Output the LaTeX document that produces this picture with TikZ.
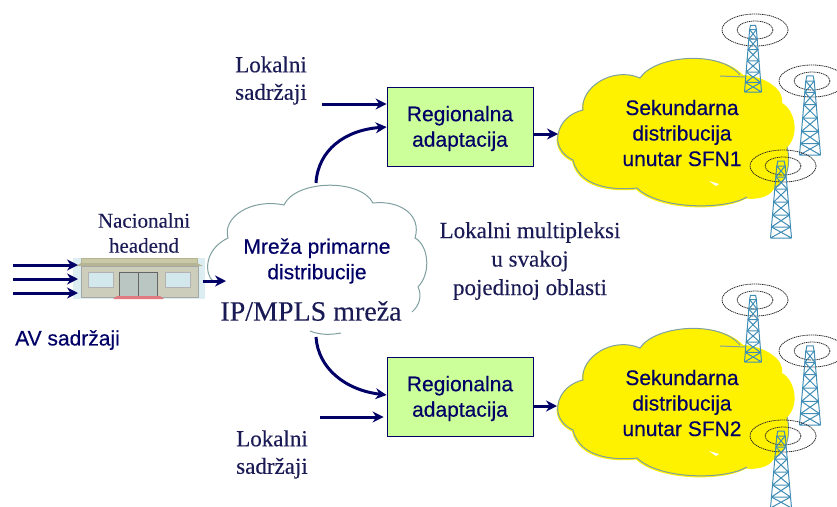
\documentclass[tikz,border=0pt]{standalone}
\usepackage{fontspec}
\setmainfont{Liberation Serif}
\setsansfont{Liberation Sans}
\newfontfamily\heavysans[FakeBold=0.35]{Liberation Sans}
\newfontfamily\heavyserif[FakeBold=0.15]{Liberation Serif}
\usetikzlibrary{arrows.meta}
\definecolor{navy}{HTML}{000066}
\definecolor{inktext}{HTML}{1A1A55}
\definecolor{cloudline}{HTML}{7F9FA0}
\definecolor{towerblue}{HTML}{3F8DB5}
\definecolor{boxgreen}{HTML}{CCFF99}
\tikzset{
  flow/.style={draw=navy,line width=3pt,-{Stealth[length=11pt,width=11pt]}},
  regbox/.style={draw=navy,line width=0.8pt,fill=boxgreen,minimum width=146pt,minimum height=79pt,inner sep=0pt},
  sanslabel/.style={font=\heavysans\fontsize{21}{25.5}\selectfont,text=navy,align=center,inner sep=0pt},
  seriflabel/.style={font=\heavyserif\fontsize{23}{27.5}\selectfont,text=inktext,align=center,inner sep=0pt},
  cloudedge/.style={draw=cloudline,line width=1pt},
  ringline/.style={draw=black!85,dash pattern=on 1.2pt off 0.7pt,line width=0.8pt},
  latt/.style={draw=towerblue,line width=1pt}
}
\newcommand{\mytower}[4]{% cx, top, height, width
  \draw[ringline] (#1+2,#2+3) ellipse [x radius=33,y radius=16];
  \draw[ringline] (#1+2,#2+3) ellipse [x radius=18,y radius=9];
  \begin{scope}[shift={(#1,#2)},xscale=#4/20,yscale=#3/75]
    \draw[latt] (-3,-2) -- (3,-2) -- (4,3) -- (-4,3) -- cycle;
    \draw[latt] (-4,3) -- (-10,75) (4,3) -- (10,75);
    \foreach \ya/\yb in {3/14,14/26,26/39,39/52,52/64,64/75}{
      \pgfmathsetmacro{\wa}{4+6*(\ya-3)/72}
      \pgfmathsetmacro{\wb}{4+6*(\yb-3)/72}
      \draw[latt] (-\wa,\ya) -- (\wb,\yb) (\wa,\ya) -- (-\wb,\yb) (-\wb,\yb) -- (\wb,\yb);
    }
  \end{scope}
}
\newcommand{\yellowcloud}[1]{%
  \begin{scope}[yshift=-#1pt]
    \fill[yellow,shift={(-1,1.5)}]
      (558,135) .. controls (560,122) and (570,113) .. (583,110)
      .. controls (580,88) and (612,66) .. (640,78)
      .. controls (655,55) and (720,50) .. (743,75)
      .. controls (765,76) and (785,90) .. (782,103)
      .. controls (795,110) and (800,135) .. (787,147)
      .. controls (792,165) and (785,185) .. (775,187)
      .. controls (770,197) and (755,198) .. (747,197)
      .. controls (725,210) and (660,210) .. (637,188)
      .. controls (620,190) and (580,190) .. (573,160)
      .. controls (562,155) and (556,145) .. (558,135) -- cycle;
    \fill[yellow]
      (558,135) .. controls (560,122) and (570,113) .. (583,110)
      .. controls (580,88) and (612,66) .. (640,78)
      .. controls (655,55) and (720,50) .. (743,75)
      .. controls (765,76) and (785,90) .. (782,103)
      .. controls (795,110) and (800,135) .. (787,147)
      .. controls (792,165) and (785,185) .. (775,187)
      .. controls (770,197) and (755,198) .. (747,197)
      .. controls (725,210) and (660,210) .. (637,188)
      .. controls (620,190) and (580,190) .. (573,160)
      .. controls (562,155) and (556,145) .. (558,135) -- cycle;
    \draw[cloudedge]
      (787,147) .. controls (792,165) and (785,185) .. (775,187)
      (747,197) .. controls (725,210) and (660,210) .. (637,188)
      .. controls (620,190) and (580,190) .. (573,160)
      .. controls (562,155) and (556,145) .. (558,135)
      .. controls (560,122) and (570,113) .. (583,110)
      .. controls (580,88) and (612,66) .. (640,78)
      .. controls (655,55) and (720,50) .. (740,75);
    \draw[cloudedge] (720,76) -- (745,77);
    \fill[white] (709,181) -- (719,184) -- (716,186) -- cycle;
  \end{scope}
}
\begin{document}
\begin{tikzpicture}[x=1pt,y=-1pt]
\useasboundingbox (0,0) rectangle (837,506);
\clip (0,0) rectangle (837,506);

% clouds (filled first)
\yellowcloud{0}
\yellowcloud{270}
\draw[cloudedge]
  (213,281) .. controls (205,275) and (203,250) .. (228,238)
  .. controls (222,218) and (250,198) .. (284,205)
  .. controls (295,180) and (360,178) .. (373,203)
  .. controls (400,200) and (422,215) .. (415,238)
  .. controls (428,245) and (432,272) .. (418,287)
  .. controls (422,295) and (420,305) .. (412,312);
\draw[cloudedge] (310,331) .. controls (320,335) and (330,335) .. (341,333);

% building
\definecolor{bldbg}{HTML}{DCEEF2}
\definecolor{bldroof}{HTML}{C9C9A6}
\definecolor{bldeave}{HTML}{B5B596}
\definecolor{bldwall}{HTML}{CDCDBB}
\definecolor{bldwin}{HTML}{D2E8EC}
\definecolor{blddoor}{HTML}{B9C6C2}
\definecolor{bldmat}{HTML}{E07A80}
\fill[bldbg] (73,258) rectangle (205,299);
\fill[bldroof,draw=bldeave] (81,258) rectangle (197,263);
\fill[bldeave] (81,263) -- (197,263) -- (203,266) -- (76,266) -- cycle;
\fill[bldwall,draw=black!35] (81,266) rectangle (198,297);
\fill[bldwin,draw=black!30,line width=1pt] (88,272) rectangle (113,287);
\fill[bldwin,draw=black!30,line width=1pt] (165,272) rectangle (190,287);
\fill[blddoor,draw=black!60,line width=0.8pt] (119,272) rectangle (157,296);
\draw[black!60,line width=0.8pt] (138,272) -- (138,296);
\fill[bldmat] (117,296) -- (160,296) -- (164,299) -- (113,299) -- cycle;

% towers
\mytower{753}{27}{65}{17}
\mytower{810}{78}{77}{21}
\mytower{781}{163}{75}{21}
\mytower{753}{297}{65}{17}
\mytower{810}{348}{77}{21}
\mytower{781}{433}{75}{21}

% boxes
\node[regbox] (box1) at (460,126.5) {};
\node[regbox] (box2) at (460,396.5) {};
\node[sanslabel] (boxtext1) at (460,128.5) {Regionalna\\adaptacija};
\node[sanslabel] (boxtext2) at (460,398.5) {Regionalna\\adaptacija};

% labels
\node[seriflabel] (lok1) at (271,80.5) {Lokalni\\sadržaji};
\node[seriflabel] (lok2) at (272,454.5) {Lokalni\\sadržaji};
\node[seriflabel,font=\heavyserif\fontsize{21}{25}\selectfont] (nac) at (144,233) {Nacionalni\\headend};
\node[sanslabel,anchor=west] (av) at (15,340) {AV sadržaji};
\node[sanslabel] (mreza) at (317,261) {Mreža primarne\\distribucije};
\node[font=\heavyserif\fontsize{28}{30}\selectfont,text=inktext,inner sep=0pt] (ip) at (311,311) {IP/MPLS mreža};
\node[seriflabel,font=\heavyserif\fontsize{23}{28.5}\selectfont] (lm) at (530,261) {Lokalni multipleksi\\u svakoj\\pojedinoj oblasti};
\node[sanslabel] (sek1) at (682,133) {Sekundarna\\distribucija\\unutar SFN1};
\node[sanslabel] (sek2) at (682,403) {Sekundarna\\distribucija\\unutar SFN2};

% connector ends
\coordinate (in1) at (13,265);
\coordinate (in2) at (13,279);
\coordinate (in3) at (13,293);
\coordinate (bin1) at (78,265);
\coordinate (bin2) at (78,279);
\coordinate (bin3) at (78,293);
\coordinate (bout) at (203,281);
\coordinate (cin) at (226,281);
\coordinate (ctop) at (316,183);
\coordinate (cbot) at (316,337);
\coordinate (lf1) at (322,104);
\coordinate (lf2) at (320,417);
\coordinate (s1in) at (558,134);
\coordinate (s2in) at (557,406);

% connectors
\draw[flow] (in1) -- (bin1);
\draw[flow] (in2) -- (bin2);
\draw[flow] (in3) -- (bin3);
\draw[flow] (bout) -- (cin);
\draw[flow] (lf1) -- (box1.west |- lf1);
\draw[flow] (lf2) -- ([xshift=-3pt]box2.west |- lf2);
\draw[flow] (ctop) .. controls (318,150) and (345,130) .. (box1.west |- 0,127);
\draw[flow] (cbot) .. controls (318,368) and (345,390) .. (box2.west |- 0,395);
\draw[flow] (box1.east |- s1in) -- (s1in);
\draw[flow] (box2.east |- s2in) -- (s2in);
\end{tikzpicture}
\end{document}
